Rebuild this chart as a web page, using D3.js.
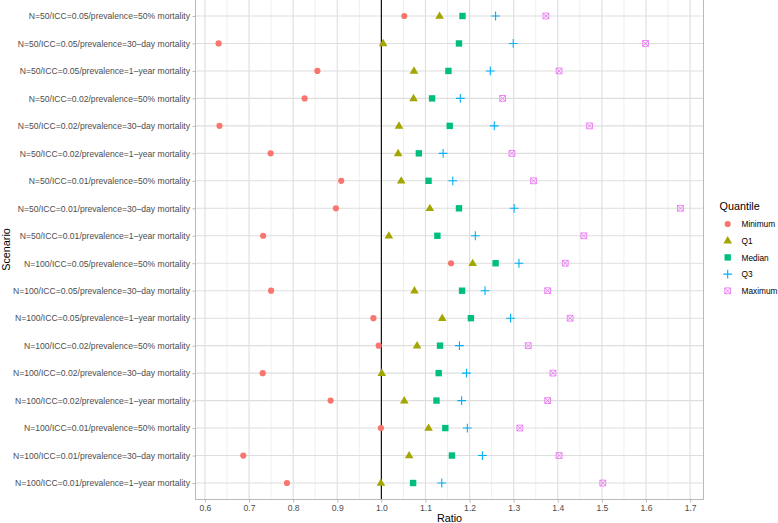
<!DOCTYPE html>
<html>
<head>
<meta charset="utf-8">
<script src="https://cdn.jsdelivr.net/npm/d3@7"></script>
<style>
html,body{margin:0;padding:0;background:#fff;}
svg{display:block;font-family:"Liberation Sans",Arial,Helvetica,sans-serif;}
</style>
</head>
<body>
<svg id="chart" width="778" height="523"></svg>
<script>
const scenarios = [
  "N=50/ICC=0.05/prevalence=50% mortality",
  "N=50/ICC=0.05/prevalence=30\u2013day mortality",
  "N=50/ICC=0.05/prevalence=1\u2013year mortality",
  "N=50/ICC=0.02/prevalence=50% mortality",
  "N=50/ICC=0.02/prevalence=30\u2013day mortality",
  "N=50/ICC=0.02/prevalence=1\u2013year mortality",
  "N=50/ICC=0.01/prevalence=50% mortality",
  "N=50/ICC=0.01/prevalence=30\u2013day mortality",
  "N=50/ICC=0.01/prevalence=1\u2013year mortality",
  "N=100/ICC=0.05/prevalence=50% mortality",
  "N=100/ICC=0.05/prevalence=30\u2013day mortality",
  "N=100/ICC=0.05/prevalence=1\u2013year mortality",
  "N=100/ICC=0.02/prevalence=50% mortality",
  "N=100/ICC=0.02/prevalence=30\u2013day mortality",
  "N=100/ICC=0.02/prevalence=1\u2013year mortality",
  "N=100/ICC=0.01/prevalence=50% mortality",
  "N=100/ICC=0.01/prevalence=30\u2013day mortality",
  "N=100/ICC=0.01/prevalence=1\u2013year mortality"
];
const quantiles = ["Minimum","Q1","Median","Q3","Maximum"];
const minimum = [1.052,0.631,0.855,0.826,0.633,0.749,0.909,0.897,0.732,1.158,0.750,0.982,0.994,0.731,0.885,0.999,0.687,0.786];
const q1      = [1.132,1.004,1.074,1.073,1.040,1.038,1.045,1.110,1.017,1.207,1.075,1.138,1.081,1.001,1.052,1.107,1.063,0.999];
const median  = [1.184,1.176,1.152,1.115,1.155,1.085,1.107,1.176,1.127,1.259,1.183,1.203,1.133,1.130,1.125,1.145,1.160,1.072];
const q3      = [1.259,1.299,1.247,1.179,1.256,1.140,1.162,1.301,1.213,1.312,1.235,1.293,1.177,1.193,1.182,1.195,1.229,1.137];
const maximum = [1.373,1.599,1.403,1.275,1.472,1.296,1.345,1.678,1.459,1.417,1.377,1.428,1.333,1.389,1.377,1.314,1.403,1.502];
const xTicks = [0.6,0.7,0.8,0.9,1.0,1.1,1.2,1.3,1.4,1.5,1.6,1.7];
const xMinor = [0.65,0.75,0.85,0.95,1.05,1.15,1.25,1.35,1.45,1.55,1.65];
const refValue = 1.0;

const seriesValues = [minimum,q1,median,q3,maximum];
const colors = ["#F8766D","#A3A500","#00BF7D","#00B0F6","#E76BF3"];

const svg = d3.select("#chart");
const P = {left:195.5, right:703.5, top:-0.5, bottom:499.5};

const allVals = seriesValues.flat();
const lo = d3.min(allVals), hi = d3.max(allVals), ex = (hi-lo)*0.05;
const x = d3.scaleLinear().domain([lo-ex, hi+ex]).range([P.left, P.right]);
const y = d3.scalePoint().domain(scenarios).range([P.top, P.bottom]).padding(0.6);

// grid
const g = svg.append("g");
g.selectAll(".minor").data(xMinor).join("line")
  .attr("x1",d=>x(d)).attr("x2",d=>x(d)).attr("y1",P.top).attr("y2",P.bottom)
  .attr("stroke","#E4E4E4").attr("stroke-width",0.6);
g.selectAll(".majx").data(xTicks).join("line")
  .attr("x1",d=>x(d)).attr("x2",d=>x(d)).attr("y1",P.top).attr("y2",P.bottom)
  .attr("stroke","#DEDEDE").attr("stroke-width",1.1);
g.selectAll(".majy").data(scenarios).join("line")
  .attr("x1",P.left).attr("x2",P.right).attr("y1",d=>y(d)).attr("y2",d=>y(d))
  .attr("stroke","#DEDEDE").attr("stroke-width",1.1);

// reference line
svg.append("line").attr("x1",x(refValue)).attr("x2",x(refValue))
  .attr("y1",P.top).attr("y2",P.bottom).attr("stroke","#000").attr("stroke-width",1.1);

// shapes
function shapePath(k){
  if(k===0) return d3.symbol(d3.symbolCircle, 30)();
  if(k===1) return "M0,-4.6L4.3,2.8L-4.3,2.8Z";
  if(k===2) return "M-3.2,-3.2H3.2V3.2H-3.2Z";
  if(k===3) return "M-4.4,0H4.4M0,-4.4V4.4";
  return "M-2.9,-2.9H2.9V2.9H-2.9ZM-2.9,-2.9L2.9,2.9M2.9,-2.9L-2.9,2.9";
}
function drawShape(sel,k){
  sel.attr("d",shapePath(k));
  if(k<=2) sel.attr("fill",colors[k]).attr("stroke","none");
  else sel.attr("fill","none").attr("stroke",colors[k]).attr("stroke-width",k===3?1.1:0.8);
}

const pts = svg.append("g");
seriesValues.forEach((vals,k)=>{
  pts.selectAll(".s"+k).data(vals).join("path")
    .attr("transform",(d,i)=>`translate(${x(d)},${y(scenarios[i])})`)
    .each(function(){ drawShape(d3.select(this),k); });
});

// panel border
svg.append("rect").attr("x",P.left).attr("y",P.top).attr("width",P.right-P.left).attr("height",P.bottom-P.top)
  .attr("fill","none").attr("stroke","#B3B3B3").attr("stroke-width",0.9);

// axes
const xAxis = svg.append("g").attr("transform",`translate(0,${P.bottom})`)
  .call(d3.axisBottom(x).tickValues(xTicks).tickFormat(d3.format(".1f")).tickSize(3).tickPadding(2.5));
const yAxis = svg.append("g").attr("transform",`translate(${P.left},0)`)
  .call(d3.axisLeft(y).tickSize(3).tickPadding(2.5));
[xAxis,yAxis].forEach(a=>{
  a.select(".domain").remove();
  a.selectAll(".tick line").attr("stroke","#B3B3B3").attr("stroke-width",0.9);
  a.selectAll(".tick text").attr("fill","#4D4D4D").style("font-size","8.6px")
   .style("font-family",'"Liberation Sans",Arial,Helvetica,sans-serif');
});

// axis titles
svg.append("text").attr("x",(P.left+P.right)/2).attr("y",522).attr("text-anchor","middle")
  .style("font-size","10.8px").attr("fill","#000").text("Ratio");
svg.append("text").attr("transform",`translate(9.5,${(P.top+P.bottom)/2}) rotate(-90)`).attr("text-anchor","middle")
  .style("font-size","10.8px").attr("fill","#000").text("Scenario");

// legend
const lg = svg.append("g");
lg.append("text").attr("x",719.5).attr("y",210).style("font-size","10.8px").attr("fill","#000").text("Quantile");
quantiles.forEach((q,k)=>{
  const cy = 224 + k*16.7;
  lg.append("path").attr("transform",`translate(727.7,${cy})`).call(s=>drawShape(s,k));
  lg.append("text").attr("x",741.5).attr("y",cy+3.1).style("font-size","8.3px").attr("fill","#000").text(q);
});
</script>
</body>
</html>
